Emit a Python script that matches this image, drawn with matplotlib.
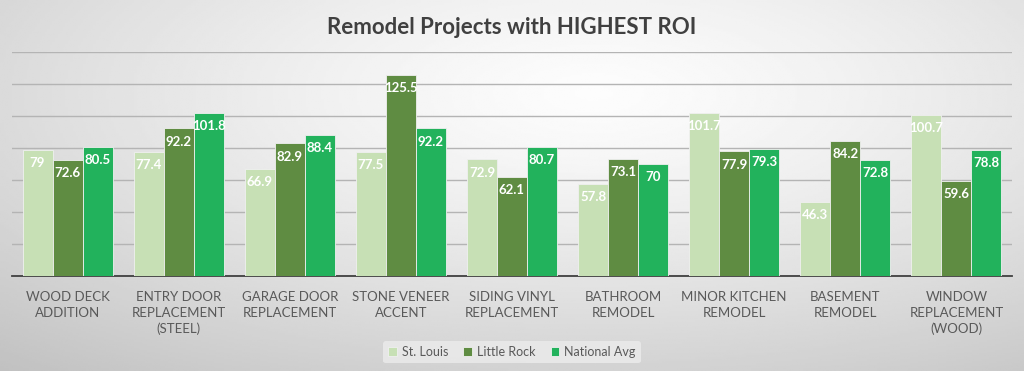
import matplotlib.pyplot as plt
import numpy as np

categories = ['WOOD DECK\nADDITION', 'ENTRY DOOR\nREPLACEMENT\n(STEEL)', 'GARAGE DOOR\nREPLACEMENT',
              'STONE VENEER\nACCENT', 'SIDING VINYL\nREPLACEMENT', 'BATHROOM\nREMODEL',
              'MINOR KITCHEN\nREMODEL', 'BASEMENT\nREMODEL', 'WINDOW\nREPLACEMENT\n(WOOD)']
st_louis = [79, 77.4, 66.9, 77.5, 72.9, 57.8, 101.7, 46.3, 100.7]
little_rock = [72.6, 92.2, 82.9, 125.5, 62.1, 73.1, 77.9, 84.2, 59.6]
national_avg = [80.5, 101.8, 88.4, 92.2, 80.7, 70, 79.3, 72.8, 78.8]
series_names = ['St. Louis', 'Little Rock', 'National Avg']
colors = ['#c7e0b5', '#5f8c42', '#22b25c']

plt.rcParams['font.family'] = ['Lato', 'DejaVu Sans']

fig = plt.figure(figsize=(10.24, 3.71), dpi=100)

# gradient background
bg = fig.add_axes([0, 0, 1, 1], zorder=-10)
yy, xx = np.mgrid[0:1:200j, 0:1:400j]
d = np.sqrt(((xx - 0.58) / 1.0) ** 2 + ((yy - 0.25) / 1.1) ** 2)
shade = 0.99 - 0.27 * np.clip(d, 0, 1) ** 1.3
bg.imshow(shade, cmap='gray', vmin=0, vmax=1, aspect='auto', extent=[0, 1, 1, 0])
bg.axis('off')

ax = fig.add_axes([12 / 1024, 1 - 276 / 371, 1000 / 1024, 224 / 371])
ax.patch.set_alpha(0)

x = np.arange(len(categories))
w = 0.27
for i, (vals, name, c) in enumerate(zip([st_louis, little_rock, national_avg], series_names, colors)):
    bars = ax.bar(x + (i - 1) * w, vals, w, color=c, label=name, edgecolor='#f0f0f0', linewidth=0.6, zorder=3)
    for b, v in zip(bars, vals):
        ax.text(b.get_x() + b.get_width() / 2, v - 4.5, f'{v:g}', ha='center', va='top',
                color='white', fontsize=9.5, fontweight='bold', zorder=4)

ax.set_xlim(-0.5, len(categories) - 0.5)
ax.set_ylim(0, 140)
ax.set_yticks(np.arange(0, 141, 20))
ax.yaxis.grid(True, color='#b4b4b4', linewidth=1, zorder=0)
ax.tick_params(axis='y', left=False, labelleft=False)
ax.tick_params(axis='x', bottom=False, pad=7)
ax.set_xticks(x)
ax.set_xticklabels(categories, fontsize=9.5, color='#595959', linespacing=1.4, va='top')
for s in ['top', 'right', 'left']:
    ax.spines[s].set_visible(False)
ax.spines['bottom'].set_color('#404040')
ax.spines['bottom'].set_linewidth(1.3)

fig.text(0.5, 1 - 27 / 371, 'Remodel Projects with HIGHEST ROI', ha='center', va='center',
         fontsize=16, fontweight='bold', color='#404040')

fig.legend(loc='center', bbox_to_anchor=(0.5, 1 - 352 / 371), ncol=3, frameon=True,
           facecolor='#ececec', edgecolor='none', framealpha=0.8, fontsize=9,
           handlelength=0.7, handleheight=0.7, handletextpad=0.4, columnspacing=1.2,
           labelcolor='#595959')

fig.savefig('out.png', dpi=100)
